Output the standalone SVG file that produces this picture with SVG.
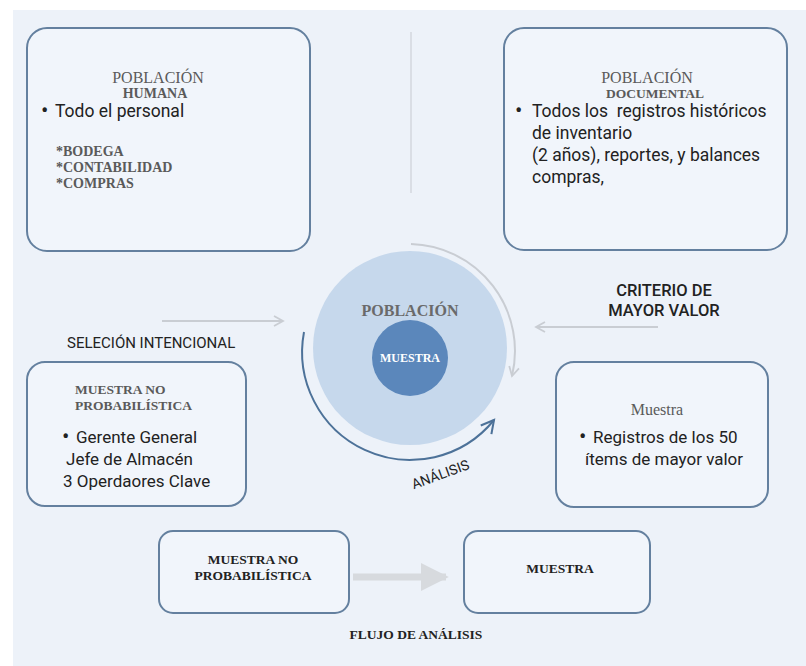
<svg xmlns="http://www.w3.org/2000/svg" width="806" height="666" viewBox="0 0 806 666">
  <defs>
    <style>
      .box { fill: #f1f5fb; stroke: #64809f; stroke-width: 2; }
      .head { font-family: "Liberation Serif", "DejaVu Serif", serif; fill: #5a5a5a; text-anchor: middle; }
      .sub { font-family: "Liberation Serif", "DejaVu Serif", serif; font-weight: bold; fill: #5a5a5a; }
      .body { font-family: Roboto, "Liberation Sans", sans-serif; font-size: 17.5px; fill: #222; }
      .body2 { font-family: Roboto, "Liberation Sans", sans-serif; font-size: 17px; fill: #222; }
      .dot { font-family: Roboto, "Liberation Sans", sans-serif; font-size: 22px; fill: #222; }
      .label { font-family: Roboto, "Liberation Sans", sans-serif; fill: #222; }
      .flow { font-family: "Liberation Serif", "DejaVu Serif", serif; font-weight: bold; font-size: 13.5px; fill: #222; text-anchor: middle; }
      .thin { fill: none; stroke: #c9cdd3; stroke-width: 2; }
    </style>
    <marker id="chev" viewBox="0 0 12 12" refX="10" refY="6" markerWidth="12" markerHeight="12" markerUnits="userSpaceOnUse" orient="auto">
      <path d="M1,1 L10,6 L1,11" fill="none" stroke="#c9cdd3" stroke-width="1.8"/>
    </marker>
    <marker id="chevBlue" viewBox="0 0 14 14" refX="12" refY="7" markerWidth="16" markerHeight="16" markerUnits="userSpaceOnUse" orient="auto">
      <path d="M1,1 L12,7 L1,13" fill="none" stroke="#4d7299" stroke-width="1.8"/>
    </marker>
    <marker id="tri" viewBox="0 0 10 10" refX="9" refY="5" markerWidth="4" markerHeight="4" orient="auto">
      <path d="M0,0 L10,5 L0,10 Z" fill="#d7dade"/>
    </marker>
  </defs>

  <!-- page -->
  <rect x="0" y="0" width="806" height="666" fill="#ffffff"/>
  <rect x="13" y="10" width="793" height="656" fill="#edf2f9"/>

  <!-- divider between the two populations -->
  <line x1="411" y1="32" x2="411" y2="193" stroke="#d3d7de" stroke-width="1.5"/>

  <!-- human population -->
  <g id="poblacion-humana">
    <rect class="box" x="27" y="28" width="283" height="223" rx="20"/>
    <text class="head" x="158" y="83" font-size="16">POBLACIÓN</text>
    <text class="head" x="155" y="98" font-size="14" font-weight="bold">HUMANA</text>
    <text class="dot" x="41" y="118">•</text>
    <text class="body" x="55" y="117">Todo el personal</text>
    <text class="sub" x="56" y="156" font-size="14">*BODEGA</text>
    <text class="sub" x="56" y="172" font-size="14">*CONTABILIDAD</text>
    <text class="sub" x="56" y="188" font-size="14">*COMPRAS</text>
  </g>

  <!-- document population -->
  <g id="poblacion-documental">
    <rect class="box" x="504" y="28" width="283" height="222" rx="20"/>
    <text class="head" x="647" y="83" font-size="16">POBLACIÓN</text>
    <text class="head" x="655" y="98" font-size="13.5" font-weight="bold">DOCUMENTAL</text>
    <text class="dot" x="515" y="118">•</text>
    <text class="body" x="532" y="117" xml:space="preserve">Todos los  registros históricos</text>
    <text class="body" x="532" y="139">de inventario</text>
    <text class="body" x="532" y="161">(2 años), reportes, y balances</text>
    <text class="body" x="532" y="183">compras,</text>
  </g>

  <!-- central population / sample -->
  <g id="poblacion-muestra">
    <circle cx="410" cy="348" r="97" fill="#c6d8ec"/>
    <circle cx="410" cy="358" r="38" fill="#5b87bb"/>
    <text x="410" y="316" font-family="Liberation Serif, DejaVu Serif, serif" font-weight="bold" font-size="16" fill="#6a6a6a" text-anchor="middle">POBLACIÓN</text>
    <text x="410" y="362" font-family="Liberation Serif, DejaVu Serif, serif" font-weight="bold" font-size="12" fill="#ffffff" text-anchor="middle">MUESTRA</text>
  </g>

  <!-- purposive sample -->
  <g id="muestra-no-probabilistica">
    <rect class="box" x="27" y="362" width="219" height="144" rx="18"/>
    <text class="sub" x="75" y="394" font-size="13.5">MUESTRA NO</text>
    <text class="sub" x="75" y="410" font-size="13.5">PROBABILÍSTICA</text>
    <text class="dot" x="62" y="444">•</text>
    <text class="body2" x="76" y="443">Gerente General</text>
    <text class="body2" x="66" y="465">Jefe de Almacén</text>
    <text class="body2" x="63" y="487">3 Operdaores Clave</text>
  </g>

  <!-- top-value sample -->
  <g id="muestra-documental">
    <rect class="box" x="556" y="362" width="212" height="145" rx="18"/>
    <text class="head" x="657" y="415" font-size="16">Muestra</text>
    <text class="dot" x="579" y="444">•</text>
    <text class="body2" x="593" y="443">Registros de los 50</text>
    <text class="body2" x="585" y="465">ítems de mayor valor</text>
  </g>

  <!-- analysis flow -->
  <g id="flujo-no-probabilistica">
    <rect class="box" x="159" y="531" width="190" height="82" rx="14"/>
    <text class="flow" x="253" y="564">MUESTRA NO</text>
    <text class="flow" x="253" y="580">PROBABILÍSTICA</text>
  </g>
  <g id="flujo-muestra">
    <rect class="box" x="464" y="531" width="186" height="82" rx="14"/>
    <text class="flow" x="560" y="573">MUESTRA</text>
  </g>
  <text class="flow" x="416" y="639" font-size="12.5">FLUJO DE ANÁLISIS</text>

  <!-- connectors -->
  <g id="connectors">
    <line class="thin" x1="162" y1="321" x2="283" y2="321" marker-end="url(#chev)"/>
    <line class="thin" x1="658" y1="327" x2="536" y2="327" marker-end="url(#chev)"/>
    <path class="thin" d="M411,244 A107,107 0 0 1 512,376" marker-end="url(#chev)"/>
    <path d="M304,332 A108,108 0 0 0 494,420" fill="none" stroke="#4d7299" stroke-width="2" marker-end="url(#chevBlue)"/>
    <line x1="353" y1="577" x2="446" y2="577" stroke="#d7dade" stroke-width="7" marker-end="url(#tri)"/>
  </g>

  <!-- connector labels -->
  <text class="label" x="67" y="348" font-size="15">SELECIÓN INTENCIONAL</text>
  <text class="label" x="664" y="296" font-size="16.5" font-weight="500" text-anchor="middle">CRITERIO DE</text>
  <text class="label" x="664" y="316" font-size="16.5" font-weight="500" text-anchor="middle">MAYOR VALOR</text>
  <text class="label" x="442" y="479" font-size="14" text-anchor="middle" transform="rotate(-20 442 479)">ANÁLISIS</text>
</svg>
